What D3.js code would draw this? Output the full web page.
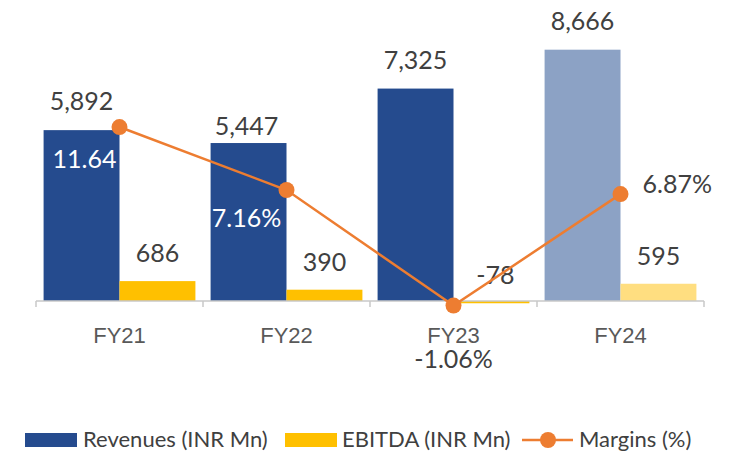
<!DOCTYPE html>
<html>
<head>
<meta charset="utf-8">
<script src="https://cdn.jsdelivr.net/npm/d3@7"></script>
<style>
  body { margin: 0; background: #fff; }
  svg { font-family: Lato, "Open Sans", sans-serif; }
</style>
</head>
<body>
<div id="chart"></div>
<script>
const categories = ['FY21', 'FY22', 'FY23', 'FY24']
const revenues = [5892, 5447, 7325, 8666]
const ebitda = [686, 390, -78, 595]
const margins = [11.64, 7.16, -1.06, 6.87]
const marginLabels = ['11.64', '7.16%', '-1.06%', '6.87%']

const width = 741
const height = 454

const svg = d3.select('#chart')
  .append('svg')
  .attr('width', width)
  .attr('height', height)

const x = d3.scaleBand().domain(categories).range([36, 704])
const xs = d3.scaleBand().domain(['rev', 'ebitda']).range([0, x.bandwidth()]).paddingOuter(0.1)
const y = d3.scaleLinear().domain([0, 10000]).range([301, 11])
const ym = d3.scaleLinear().domain([0, 10]).range([290.7, 150.1])

const fmt = d => d3.format(',')(d).replace('\u2212', '-')
const revColor = (d, i) => i === 3 ? '#8ca2c5' : '#254b8e'
const ebColor = (d, i) => i === 3 ? '#ffde80' : '#ffc000'

// bars
svg.append('g').selectAll('rect')
  .data(revenues)
  .join('rect')
  .attr('x', (d, i) => x(categories[i]) + xs('rev'))
  .attr('y', d => y(d))
  .attr('width', xs.bandwidth())
  .attr('height', d => y(0) - y(d))
  .attr('fill', revColor)

svg.append('g').selectAll('rect')
  .data(ebitda)
  .join('rect')
  .attr('x', (d, i) => x(categories[i]) + xs('ebitda'))
  .attr('y', d => Math.min(y(d), y(0)))
  .attr('width', xs.bandwidth())
  .attr('height', d => Math.abs(y(0) - y(d)))
  .attr('fill', ebColor)

// axis
const axis = svg.append('g').attr('transform', `translate(0,${y(0)})`)
axis.append('line')
  .attr('x1', x.range()[0]).attr('x2', x.range()[1])
  .attr('stroke', '#c8c8c8').attr('stroke-width', 1.5)
axis.selectAll('.tick-b')
  .data(d3.range(categories.length + 1))
  .join('line')
  .attr('x1', i => x.range()[0] + i * x.step())
  .attr('x2', i => x.range()[0] + i * x.step())
  .attr('y1', 0).attr('y2', 6)
  .attr('stroke', '#c8c8c8').attr('stroke-width', 1.5)

const xAxis = svg.append('g')
  .attr('transform', `translate(0,${y(0)})`)
  .call(d3.axisBottom(x).tickSize(0).tickPadding(26))
xAxis.select('.domain').remove()
xAxis.selectAll('text')
  .attr('fill', '#595959')
  .attr('font-size', 22)
  .attr('font-weight', 300)

// bar labels
const revLabelDy = [-20, -8, -20, -20]
svg.append('g').selectAll('text')
  .data(revenues)
  .join('text')
  .attr('x', (d, i) => x(categories[i]) + xs('rev') + xs.bandwidth() / 2 + (i === 1 ? -2 : 0))
  .attr('y', (d, i) => y(d) + revLabelDy[i])
  .attr('text-anchor', 'middle')
  .attr('font-size', 25)
  .attr('fill', '#404040')
  .text(fmt)

svg.append('g').selectAll('text')
  .data(ebitda)
  .join('text')
  .attr('x', (d, i) => x(categories[i]) + xs('ebitda') + xs.bandwidth() / 2 + (i === 2 ? 4 : 0))
  .attr('y', d => Math.min(y(d), y(0)) - (d < 0 ? 17 : 19))
  .attr('text-anchor', 'middle')
  .attr('font-size', 25)
  .attr('fill', '#404040')
  .text(fmt)

// margins line
const cx = (d, i) => x(categories[i]) + x.bandwidth() / 2
const line = d3.line()
  .x((d, i) => cx(d, i))
  .y(d => ym(d))

svg.append('path')
  .datum(margins)
  .attr('d', line)
  .attr('fill', 'none')
  .attr('stroke', '#ed7d31')
  .attr('stroke-width', 2.5)

svg.append('g').selectAll('circle')
  .data(margins)
  .join('circle')
  .attr('cx', cx)
  .attr('cy', d => ym(d))
  .attr('r', 8)
  .attr('fill', '#ed7d31')

// margin labels, nudged like the original
const mDx = [-35, -40, 0, 22]
const mDy = [41, 37, 62, -1]
const mAnchor = ['middle', 'middle', 'middle', 'start']
const mFill = ['#ffffff', '#ffffff', '#404040', '#404040']
svg.append('g').selectAll('text')
  .data(margins)
  .join('text')
  .attr('x', (d, i) => cx(d, i) + mDx[i])
  .attr('y', (d, i) => ym(d) + mDy[i])
  .attr('text-anchor', (d, i) => mAnchor[i])
  .attr('font-size', 25)
  .attr('fill', (d, i) => mFill[i])
  .text((d, i) => marginLabels[i])

// legend
const legend = svg.append('g').attr('font-size', 22).attr('fill', '#404040')
legend.append('rect').attr('x', 25).attr('y', 433).attr('width', 52).attr('height', 14).attr('fill', '#254b8e')
legend.append('text').attr('x', 83).attr('y', 447).text('Revenues (INR Mn)')
legend.append('rect').attr('x', 285).attr('y', 433).attr('width', 52).attr('height', 14).attr('fill', '#ffc000')
legend.append('text').attr('x', 342).attr('y', 447).text('EBITDA (INR Mn)')
legend.append('line').attr('x1', 522).attr('x2', 573).attr('y1', 440).attr('y2', 440)
  .attr('stroke', '#ed7d31').attr('stroke-width', 2.5)
legend.append('circle').attr('cx', 548).attr('cy', 440).attr('r', 8).attr('fill', '#ed7d31')
legend.append('text').attr('x', 579).attr('y', 447).text('Margins (%)')
</script>
</body>
</html>
